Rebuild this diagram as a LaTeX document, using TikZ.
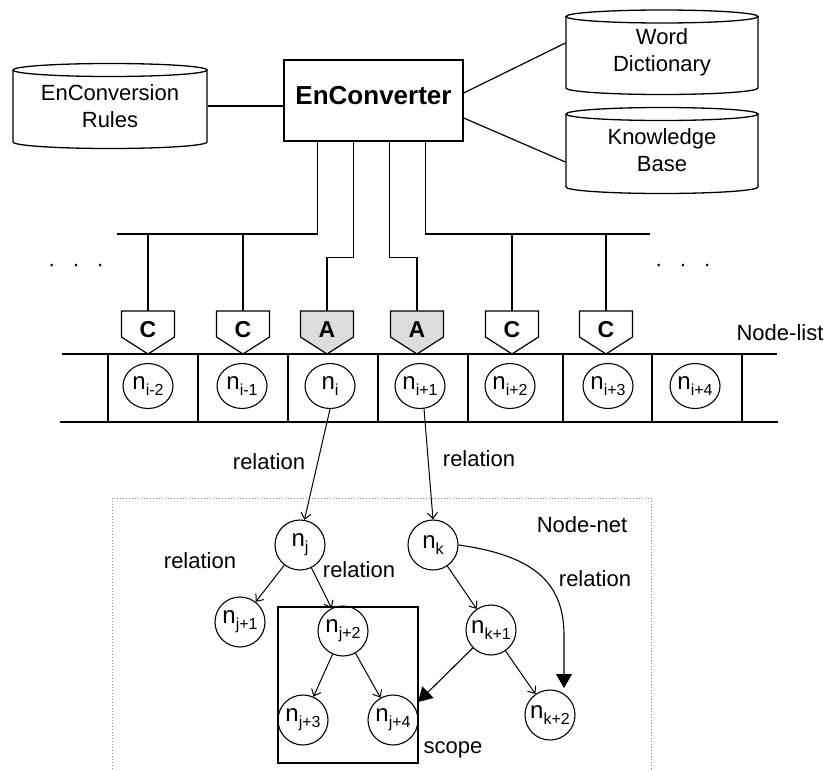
\documentclass[tikz,border=0pt]{standalone}
\usepackage{fontspec}
\setmainfont{Liberation Sans}
\usetikzlibrary{arrows.meta,shapes.geometric}
\definecolor{afill}{RGB}{221,221,221}
\definecolor{dotgray}{RGB}{140,140,140}
\newcommand\nlab[1]{{\fontsize{24}{24}\selectfont n}\raisebox{-6pt}{\fontsize{16}{16}\selectfont #1}}
\newcommand\mypent[4]{% #1 x, #2 name, #3 letter, #4 fill
  \filldraw[fill=#4, line width=1.2pt, line join=miter] ({#1-26.5},311) -- ({#1+26.5},311) -- ({#1+26.5},337) -- (#1,354) -- ({#1-26.5},337) -- cycle;
  \coordinate (#2top) at (#1,311);
  \node[pentlbl] (#2) at (#1,330) {#3};
}
\begin{document}
\begin{tikzpicture}[x=1pt,y=-1pt,
  line width=1.2pt,
  txt/.style={font=\fontsize{22}{27}\selectfont, inner sep=0pt},
  box/.style={draw, line width=1.4pt, minimum width=179pt, minimum height=81pt, inner sep=0pt,
    font=\fontsize{26}{26}\selectfont\bfseries, text height=13pt, text depth=6pt},
  cylbody/.style={inner sep=0pt, align=center, font=\fontsize{22}{27}\selectfont},
  cylline/.style={line width=1.3pt},
  lcirc/.style={ellipse, draw, line width=1.1pt, minimum width=50pt, minimum height=45pt, inner sep=0pt},
  ncirc/.style={circle, draw, line width=1.1pt, minimum size=50pt, inner sep=0pt},
  pentlbl/.style={font=\fontsize{23}{23}\selectfont\bfseries, inner sep=0pt},
  arr/.style={line width=1pt, -{Straight Barb[length=6pt,width=10pt]}},
  tri/.style={line width=1.1pt, -{Triangle[length=14pt,width=16pt]}},
  scopebox/.style={draw, line width=1.2pt, minimum width=140pt, minimum height=156pt, inner sep=0pt},
]
\useasboundingbox (0,0) rectangle (830,771);

% ---------- cylinders ----------
\draw[cylline] (13,70) -- (13,142) arc[start angle=180, end angle=0, x radius=97, y radius=6.5] -- (207,70);
\draw[cylline] (110,70) ellipse [x radius=97, y radius=6.5];
\node[cylbody, minimum width=194pt, minimum height=72pt] (rules) at (110,106) {EnConversion\\Rules};

\draw[cylline] (566,16.5) -- (566,88) arc[start angle=180, end angle=0, x radius=96, y radius=6.5] -- (758,16.5);
\draw[cylline] (662,16.5) ellipse [x radius=96, y radius=6.5];
\node[cylbody, minimum width=192pt, minimum height=71.5pt] (dict) at (662,52) {Word\\Dictionary};

\draw[cylline] (566,114) -- (566,187) arc[start angle=180, end angle=0, x radius=96, y radius=6.5] -- (758,114);
\draw[cylline] (662,114) ellipse [x radius=96, y radius=6.5];
\node[cylbody, minimum width=192pt, minimum height=73pt] (kb) at (662,150.5) {Knowledge\\Base};

% ---------- EnConverter ----------
\node[box] (enc) at (373.5,100.5) {EnConverter};

\draw (rules.east) -- (rules.east -| enc.west);
\draw ([yshift=7.5pt]enc.east) -- ([yshift=9pt]dict.west);
\draw ([yshift=-17.5pt]enc.east) -- ([yshift=-11.5pt]kb.west);

% ---------- pentagons ----------
\mypent{148}{pa}{C}{white}
\mypent{243}{pb}{C}{white}
\mypent{327}{pc}{A}{afill}
\mypent{417}{pd}{A}{afill}
\mypent{512}{pe}{C}{white}
\mypent{606}{pf}{C}{white}

% ---------- bus ----------
\coordinate (busL) at (117,234);
\coordinate (busR) at (650,234);
\draw ([xshift=34pt]enc.south west) |- (busL);
\draw (patop) -- (patop |- busL);
\draw (pbtop) -- (pbtop |- busL);
\draw ([xshift=70pt]enc.south west) -- ++(0,116) -| (pctop);
\draw ([xshift=106pt]enc.south west) -- ++(0,116) -| (pdtop);
\draw ([xshift=142pt]enc.south west) |- (busR);
\draw (petop) -- (petop |- busR);
\draw (pftop) -- (pftop |- busR);

\node[txt, anchor=base] (dotsL) at (76,271) {·\hspace{17pt}·\hspace{17pt}·};
\node[txt, anchor=base] (dotsR) at (683,271) {·\hspace{17pt}·\hspace{17pt}·};

\node[txt, anchor=base] (nodelist) at (780,340) {Node-list};

% ---------- node list ----------
\draw (62,354) -- (777,354);
\draw (60,422) -- (778,422);
\foreach \x in {108,198,288,378,468,563,652,742} {\draw (\x,354) -- (\x,422);}

\node[lcirc] (nim2) at (148,386) {\nlab{i-2}};
\node[lcirc] (nim1) at (242,386) {\nlab{i-1}};
\node[lcirc] (ni)   at (330,386) {\nlab{i}};
\node[lcirc] (nip1) at (420,386) {\nlab{i+1}};
\node[lcirc] (nip2) at (510,386) {\nlab{i+2}};
\node[lcirc] (nip3) at (608,386) {\nlab{i+3}};
\node[lcirc] (nip4) at (695,386) {\nlab{i+4}};

% ---------- node net ----------
\draw[dotgray, line width=1pt, dash pattern=on 1pt off 2pt] (112,790) -- (112,498) -- (651,498) -- (651,790);
\node[txt, anchor=base] (nodenet) at (582,532) {Node-net};

\node[scopebox] (scope) at (348,685) {};
\node[txt, anchor=base west] (scopelbl) at (423,753) {scope};

\node[ncirc] (nj)  at (300,545) {\nlab{j}};
\node[ncirc] (nk)  at (433,545) {\nlab{k}};
\node[ncirc] (nj1) at (240,622) {\nlab{j+1}};
\node[ncirc] (nj2) at (343,631) {\nlab{j+2}};
\node[ncirc] (nj3) at (303,720) {\nlab{j+3}};
\node[ncirc] (nj4) at (393,720) {\nlab{j+4}};
\node[ncirc] (nk1) at (491,630) {\nlab{k+1}};
\node[ncirc] (nk2) at (550,715) {\nlab{k+2}};

\draw[arr] (ni.south) -- (nj.80);
\draw[arr] (nip1.280) -- (nk.north);
\draw[arr] (nj) -- (nj1);
\draw[arr] (nj) -- (nj2);
\draw[arr] (nj2) -- (nj3);
\draw[arr] (nj2) -- (nj4);
\draw[arr] (nk) -- (nk1);
\draw[arr] (nk1) -- (nk2);

\coordinate (scopeR) at (418,702);
\draw[tri] (nk1) -- (scopeR);
\coordinate (tipB) at (564,688);
\draw[tri] (nk.east) .. controls (530,555) and (564,580) .. (564,635) -- (tipB);

\node[txt, anchor=base] (rel1) at (269,469) {relation};
\node[txt, anchor=base] (rel2) at (479,466) {relation};
\node[txt, anchor=base] (rel3) at (200,568) {relation};
\node[txt, anchor=base] (rel4) at (359,577) {relation};
\node[txt, anchor=base] (rel5) at (595,586) {relation};
\end{tikzpicture}
\end{document}
